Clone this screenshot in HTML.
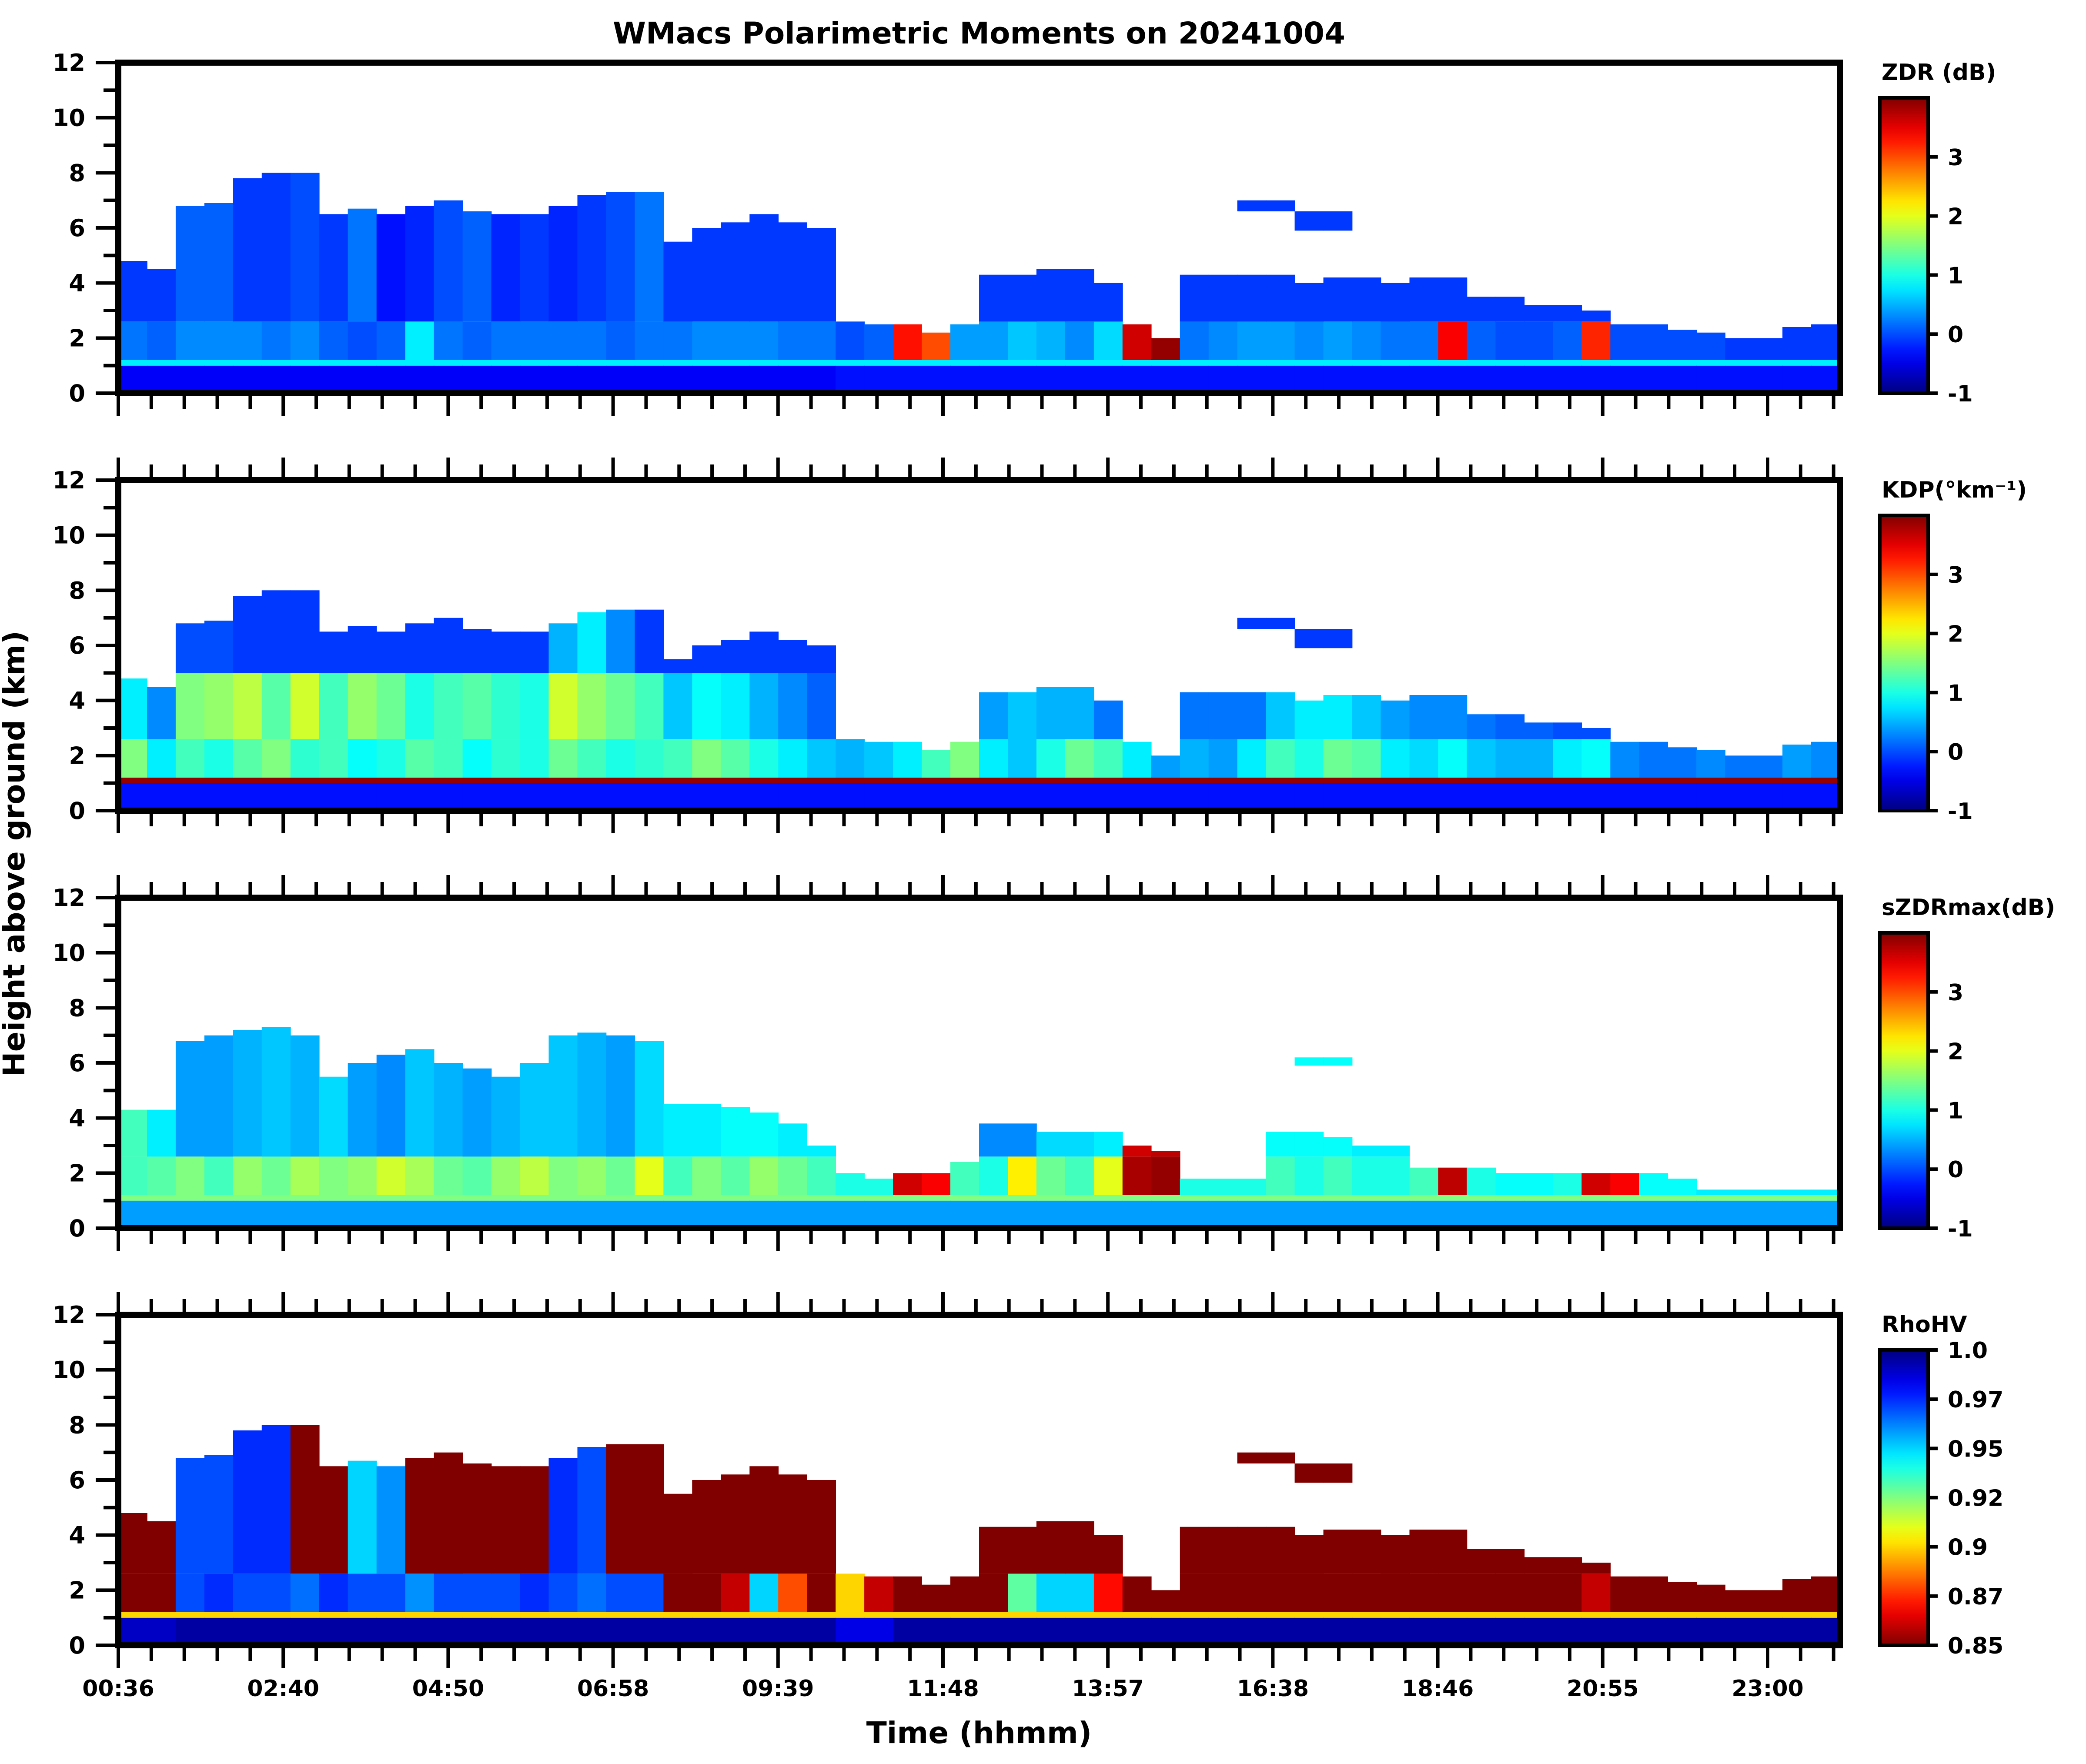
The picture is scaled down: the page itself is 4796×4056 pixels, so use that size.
<!DOCTYPE html>
<html><head><meta charset="utf-8">
<style>
html,body{margin:0;padding:0;background:#fff;}
svg{display:block;}
text{font-family:"DejaVu Sans","Liberation Sans",sans-serif;font-weight:bold;fill:#000;}
</style></head>
<body>
<svg id="fig" xmlns="http://www.w3.org/2000/svg" width="4796" height="4056" viewBox="0 0 4796 4056">
<rect width="4796" height="4056" fill="#fff"/>
<text x="2251" y="100" font-size="69" text-anchor="middle">WMacs Polarimetric Moments on 20241004</text>
<text x="2251" y="4008" font-size="69" text-anchor="middle">Time (hhmm)</text>
<text x="0" y="0" font-size="69" text-anchor="middle" transform="translate(56,1963) rotate(-90)">Height above ground (km)</text>
</svg>
<script>
// ---- data (60 time columns) ----
const timeLabels = ["00:36","02:40","04:50","06:58","09:39","11:48","13:57","16:38","18:46","20:55","23:00"];
const heightTicks = [0,2,4,6,8,10,12];
const topKm = [4.8,4.5,6.8,6.9,7.8,8.0,8.0,6.5,6.7,6.5,6.8,7.0,6.6,6.5,6.5,6.8,7.2,7.3,7.3,5.5,6.0,6.2,6.5,6.2,6.0,2.6,2.5,2.5,2.2,2.5,4.3,4.3,4.5,4.5,4.0,2.5,2.0,4.3,4.3,4.3,4.3,4.0,4.2,4.2,4.0,4.2,4.2,3.5,3.5,3.2,3.2,3.0,2.5,2.5,2.3,2.2,2.0,2.0,2.4,2.5];
const sTopKm = [4.3,4.3,6.8,7.0,7.2,7.3,7.0,5.5,6.0,6.3,6.5,6.0,5.8,5.5,6.0,7.0,7.1,7.0,6.8,4.5,4.5,4.4,4.2,3.8,3.0,2.0,1.8,2.0,2.0,2.4,3.8,3.8,3.5,3.5,3.5,3.0,2.8,1.8,1.8,1.8,3.5,3.5,3.3,3.0,3.0,2.2,2.2,2.2,2.0,2.0,2.0,2.0,2.0,2.0,1.8,1.4,1.4,1.4,1.4,1.4];
const elevBaseKm = [0,0,0,0,0,0,0,0,0,0,0,0,0,0,0,0,0,0,0,0,0,0,0,0,0,0,0,0,0,0,0,0,0,0,0,0,0,0,0,6.6,6.6,5.9,5.9,0,0,0,0,0,0,0,0,0,0,0,0,0,0,0,0,0];
const elevTopKm  = [0,0,0,0,0,0,0,0,0,0,0,0,0,0,0,0,0,0,0,0,0,0,0,0,0,0,0,0,0,0,0,0,0,0,0,0,0,0,0,7.0,7.0,6.6,6.6,0,0,0,0,0,0,0,0,0,0,0,0,0,0,0,0,0];
// ZDR
const zdrLow  = [-0.4,-0.4,-0.4,-0.4,-0.4,-0.4,-0.4,-0.4,-0.4,-0.4,-0.4,-0.4,-0.4,-0.4,-0.4,-0.4,-0.4,-0.4,-0.4,-0.4,-0.4,-0.4,-0.4,-0.4,-0.4,-0.3,-0.3,-0.3,-0.3,-0.3,-0.3,-0.3,-0.3,-0.3,-0.3,-0.3,-0.3,-0.3,-0.3,-0.3,-0.3,-0.3,-0.3,-0.3,-0.3,-0.3,-0.3,-0.3,-0.3,-0.3,-0.3,-0.3,-0.3,-0.3,-0.3,-0.3,-0.3,-0.3,-0.3,-0.3];
const zdrMid  = [0.2,0.1,0.3,0.3,0.3,0.2,0.3,0.1,0.0,0.1,0.8,0.2,0.1,0.2,0.2,0.2,0.2,0.1,0.2,0.2,0.3,0.3,0.3,0.2,0.2,0.0,0.1,3.3,3.0,0.4,0.4,0.6,0.5,0.3,0.7,3.6,3.9,0.2,0.3,0.4,0.4,0.3,0.4,0.3,0.2,0.2,3.4,0.1,0.0,0.0,0.1,3.2,0.0,0.0,0.0,0.0,-0.1,-0.1,-0.1,-0.1];
const zdrHigh = [-0.1,-0.1,0.1,0.1,-0.1,-0.1,0.0,-0.1,0.2,-0.3,-0.2,0.0,0.1,-0.2,-0.1,-0.2,-0.1,0.0,0.2,-0.1,-0.1,-0.1,-0.1,-0.1,-0.1,-0.1,-0.1,-0.1,-0.1,-0.1,-0.1,-0.1,-0.1,-0.1,-0.1,-0.1,-0.1,-0.1,-0.1,-0.1,-0.1,-0.1,-0.1,-0.1,-0.1,-0.1,-0.1,-0.1,-0.1,-0.1,-0.1,-0.1,-0.1,-0.1,-0.1,-0.1,-0.1,-0.1,-0.1,-0.1];
// KDP
const kdpLow  = [-0.3,-0.3,-0.3,-0.3,-0.3,-0.3,-0.3,-0.3,-0.3,-0.3,-0.3,-0.3,-0.3,-0.3,-0.3,-0.3,-0.3,-0.3,-0.3,-0.3,-0.3,-0.3,-0.3,-0.3,-0.3,-0.3,-0.3,-0.3,-0.3,-0.3,-0.3,-0.3,-0.3,-0.3,-0.3,-0.3,-0.3,-0.3,-0.3,-0.3,-0.3,-0.3,-0.3,-0.3,-0.3,-0.3,-0.3,-0.3,-0.3,-0.3,-0.3,-0.3,-0.3,-0.3,-0.3,-0.3,-0.3,-0.3,-0.3,-0.3];
const kdpMid  = [1.5,0.8,1.2,1.0,1.3,1.5,1.1,1.2,0.9,1.0,1.3,1.2,0.9,1.1,1.0,1.4,1.2,1.0,1.1,1.2,1.5,1.3,1.0,0.8,0.6,0.5,0.6,0.8,1.2,1.5,0.8,0.6,1.0,1.4,1.2,0.8,0.4,0.5,0.4,0.8,1.2,1.0,1.4,1.3,0.8,0.7,0.9,0.6,0.5,0.5,0.8,0.9,0.3,0.2,0.2,0.3,0.2,0.2,0.4,0.3];
const kdpHigh = [0.8,0.3,1.5,1.6,1.8,1.3,1.9,1.2,1.6,1.4,1.0,1.2,1.3,1.1,1.0,1.9,1.6,1.4,1.2,0.6,0.9,0.8,0.5,0.3,0.1,0.0,0.0,0.0,0.0,0.0,0.4,0.6,0.5,0.5,0.2,0.0,0.0,0.2,0.2,0.2,0.6,0.8,0.8,0.6,0.4,0.3,0.3,0.2,0.1,0.1,0.0,0.0,0.0,0.0,0.0,0.0,0.0,0.0,0.0,0.0];
const kdpCap = [0.0,0.0,0.0,0.0,-0.1,-0.1,-0.1,-0.1,-0.1,-0.1,-0.1,-0.1,-0.1,-0.1,-0.1,0.5,0.8,0.3,-0.1,-0.1,-0.1,-0.1,-0.1,-0.1,-0.1,-0.1,-0.1,-0.1,-0.1,-0.1,-0.1,-0.1,-0.1,-0.1,-0.1,-0.1,-0.1,-0.1,-0.1,-0.1,-0.1,-0.1,-0.1,-0.1,-0.1,-0.1,-0.1,-0.1,-0.1,-0.1,-0.1,-0.1,-0.1,-0.1,-0.1,-0.1,-0.1,-0.1,-0.1,-0.1];
// sZDRmax
const szLow  = [0.4,0.4,0.4,0.4,0.4,0.4,0.4,0.4,0.4,0.4,0.4,0.4,0.4,0.4,0.4,0.4,0.4,0.4,0.4,0.4,0.4,0.4,0.4,0.4,0.4,0.4,0.4,0.4,0.4,0.4,0.4,0.4,0.4,0.4,0.4,0.4,0.4,0.4,0.4,0.4,0.4,0.4,0.4,0.4,0.4,0.4,0.4,0.4,0.4,0.4,0.4,0.4,0.4,0.4,0.4,0.4,0.4,0.4,0.4,0.4];
const szMid  = [1.2,1.3,1.5,1.2,1.6,1.4,1.7,1.5,1.6,1.9,1.7,1.4,1.3,1.6,1.8,1.5,1.6,1.4,2.0,1.2,1.5,1.3,1.6,1.4,1.2,1.0,1.0,3.6,3.4,1.2,1.0,2.2,1.4,1.2,2.0,3.8,3.9,1.0,1.0,1.0,1.2,1.0,1.2,1.0,1.0,1.2,3.7,1.0,0.9,0.9,1.0,3.6,3.4,0.9,0.9,0.8,0.8,0.8,0.8,0.8];
const szHigh = [1.2,0.8,0.4,0.4,0.5,0.6,0.5,0.7,0.4,0.3,0.6,0.5,0.4,0.5,0.6,0.6,0.5,0.4,0.7,0.8,0.8,0.9,0.9,0.8,0.8,0.8,0.8,0.8,0.8,0.8,0.3,0.3,0.7,0.7,0.8,3.6,3.7,0.8,0.8,0.8,0.9,0.9,0.9,0.8,0.8,0.8,0.8,0.8,0.8,0.8,0.8,0.8,0.8,0.8,0.8,0.8,0.8,0.8,0.8,0.8];
// RhoHV
const rhoLow  = [0.99,0.99,0.995,0.995,0.995,0.995,0.995,0.995,0.995,0.995,0.995,0.995,0.995,0.995,0.995,0.995,0.995,0.995,0.995,0.995,0.995,0.995,0.995,0.995,0.995,0.985,0.985,0.995,0.995,0.995,0.995,0.995,0.995,0.995,0.995,0.995,0.995,0.995,0.995,0.995,0.995,0.995,0.995,0.995,0.995,0.995,0.995,0.995,0.995,0.995,0.995,0.995,0.995,0.995,0.995,0.995,0.995,0.995,0.995,0.995];
const rhoMid  = [0.85,0.85,0.97,0.975,0.97,0.97,0.965,0.975,0.97,0.97,0.96,0.97,0.97,0.97,0.975,0.97,0.965,0.97,0.97,0.85,0.85,0.86,0.95,0.88,0.85,0.9,0.86,0.85,0.85,0.85,0.85,0.93,0.95,0.95,0.87,0.85,0.85,0.85,0.85,0.85,0.85,0.85,0.85,0.85,0.85,0.85,0.85,0.85,0.85,0.85,0.85,0.86,0.85,0.85,0.85,0.85,0.85,0.85,0.85,0.85];
const rhoHigh = [0.85,0.85,0.97,0.97,0.975,0.975,0.85,0.85,0.95,0.96,0.85,0.85,0.85,0.85,0.85,0.975,0.97,0.85,0.85,0.85,0.85,0.85,0.85,0.85,0.85,0.85,0.85,0.85,0.85,0.85,0.85,0.85,0.85,0.85,0.85,0.85,0.85,0.85,0.85,0.85,0.85,0.85,0.85,0.85,0.85,0.85,0.85,0.85,0.85,0.85,0.85,0.85,0.85,0.85,0.85,0.85,0.85,0.85,0.85,0.85];
const bandVals = [0.8, 3.9, 1.5, 0.9];

// ---- layout ----
const NS = "http://www.w3.org/2000/svg";
const svg = document.getElementById('fig');
const X0 = 272, X1 = 4230, PH = 760;
const panelTops = [144, 1104, 2064, 3023];
const majorStep = (4064 - 272) / 10;
function mk(tag, attrs, parent) {
  const e = document.createElementNS(NS, tag);
  for (const k in attrs) e.setAttribute(k, attrs[k]);
  (parent || svg).appendChild(e);
  return e;
}
function jet(t) {
  t = Math.max(0, Math.min(1, t));
  const c = v => Math.round(255 * Math.max(0, Math.min(1, v)));
  return `rgb(${c(1.5 - Math.abs(4*t - 3))},${c(1.5 - Math.abs(4*t - 2))},${c(1.5 - Math.abs(4*t - 1))})`;
}
const panels = [
  {name:'zdr', label:'ZDR (dB)', low:zdrLow, mid:zdrMid, high:zdrHigh, cap:null, top:topKm, vmin:-1, vmax:4, rev:false, ticks:[-1,0,1,2,3], tl:['-1','0','1','2','3']},
  {name:'kdp', label:'KDP(°km⁻¹)', low:kdpLow, mid:kdpMid, high:kdpHigh, cap:kdpCap, top:topKm, vmin:-1, vmax:4, rev:false, ticks:[-1,0,1,2,3], tl:['-1','0','1','2','3']},
  {name:'szdrmax', label:'sZDRmax(dB)', low:szLow, mid:szMid, high:szHigh, cap:null, top:sTopKm, vmin:-1, vmax:4, rev:false, ticks:[-1,0,1,2,3], tl:['-1','0','1','2','3']},
  {name:'rhohv', label:'RhoHV', low:rhoLow, mid:rhoMid, high:rhoHigh, cap:null, top:topKm, vmin:0.85, vmax:1.0, rev:true, ticks:[0.85,0.875,0.9,0.925,0.95,0.975,1.0], tl:['0.85','0.87','0.9','0.92','0.95','0.97','1.0']}
];
const ncol = topKm.length;
const cw = (X1 - X0) / ncol;
const CAP_KM = 5.0;

panels.forEach((p, pi) => {
  const top = panelTops[pi];
  const y = km => top + PH - km * PH / 12;
  const col = v => { let t = (v - p.vmin) / (p.vmax - p.vmin); if (p.rev) t = 1 - t; return jet(t); };
  const g = mk('g', {});
  
  
  for (let i = 0; i < ncol; i++) {
    const x = X0 + i * cw;
    const segs = [[0, 1.0, p.low[i]], [1.0, 1.2, bandVals[pi]]];
    const t = p.top[i];
    const midTop = Math.min(t, 2.6);
    if (t > 1.2) segs.push([1.2, midTop, p.mid[i]]);
    if (p.cap) {
      if (t > 2.6) segs.push([2.6, Math.min(t, CAP_KM), p.high[i]]);
      if (t > CAP_KM) segs.push([CAP_KM, t, p.cap[i]]);
    } else if (t > 2.6) segs.push([2.6, t, p.high[i]]);
    if (elevTopKm[i] > 0) segs.push([elevBaseKm[i], elevTopKm[i] - (pi === 2 ? 0.4 : 0), p.cap ? p.cap[i] : p.high[i]]);
    segs.forEach(s => {
      const r = mk('rect', {x: x.toFixed(1), y: y(s[1]).toFixed(1), width: (cw + 0.8).toFixed(1), height: (y(s[0]) - y(s[1])).toFixed(1), fill: col(s[2])}, g);
      
      
    });
  }
  const fr = mk('rect', {x: X0, y: top, width: X1 - X0, height: PH, fill: 'none', stroke: '#000', 'stroke-width': 14});
  
  
  for (let k = 0; k <= 12; k++) {
    const yy = y(k);
    const major = k % 2 === 0;
    mk('line', {x1: X0 - (major ? 52 : 34), x2: X0, y1: yy, y2: yy, stroke: '#000', 'stroke-width': 8});
  }
  heightTicks.forEach(h => {
    const tx = mk('text', {x: 196, y: y(h) + 19, 'font-size': 54, 'text-anchor': 'end'});
    tx.textContent = String(h);
    
    
  });
  for (let m = 0; m * majorStep / 5 <= X1 - X0 + 1; m++) {
    const xx = X0 + m * majorStep / 5;
    const major = m % 5 === 0;
    const L = major ? 52 : 36;
    mk('line', {x1: xx, x2: xx, y1: top + PH, y2: top + PH + L, stroke: '#000', 'stroke-width': 8});
    if (pi > 0) mk('line', {x1: xx, x2: xx, y1: top - L, y2: top, stroke: '#000', 'stroke-width': 8});
  }
  if (pi === 3) {
    timeLabels.forEach((lab, j) => {
      const tx = mk('text', {x: X0 + j * majorStep, y: 3900, 'font-size': 52, 'text-anchor': 'middle'});
      tx.textContent = lab;
      
      
    });
  }
  const cbX = 4322, cbW = 111, cbT = top + 81, cbB = top + PH;
  const gid = 'grad' + pi;
  const defs = mk('defs', {});
  const lg = mk('linearGradient', {id: gid, x1: 0, y1: 1, x2: 0, y2: 0}, defs);
  for (let s = 0; s <= 20; s++) {
    const t = s / 20;
    mk('stop', {offset: t, 'stop-color': jet(p.rev ? 1 - t : t)}, lg);
  }
  const cb = mk('rect', {x: cbX, y: cbT, width: cbW, height: cbB - cbT, fill: `url(#${gid})`, stroke: '#000', 'stroke-width': 8});
  
  
  const cl = mk('text', {x: 4326, y: top + 40, 'font-size': 52});
  cl.textContent = p.label;
  
  
  p.ticks.forEach((v, j) => {
    const yy = cbB - (v - p.vmin) / (p.vmax - p.vmin) * (cbB - cbT);
    mk('line', {x1: cbX + cbW, x2: cbX + cbW + 22, y1: yy, y2: yy, stroke: '#000', 'stroke-width': 8});
    const tx = mk('text', {x: 4478, y: yy + 19, 'font-size': 52});
    tx.textContent = p.tl[j];
    
    
  });
});
</script>
</body></html>
